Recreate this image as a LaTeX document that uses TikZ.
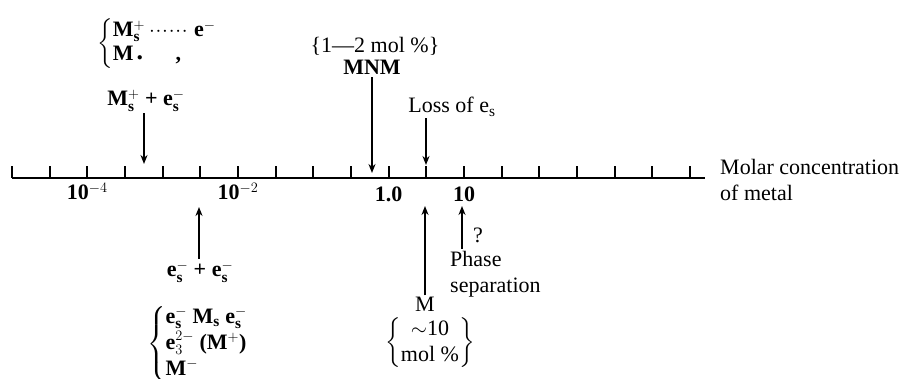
\documentclass[tikz,border=0pt]{standalone}
\usepackage{amsmath}
\usepackage{fontspec}
\setmainfont{Liberation Serif}
\usepackage{tikz}
\usetikzlibrary{arrows.meta,calc}
\newcommand{\Msp}{M$_{\text{s}}^{+}$}
\newcommand{\esm}{e$_{\text{s}}^{-}$}
\newcommand{\dotrun}{\hbox to 1.9em{\leaders\hbox to 0.3em{\hss$\cdot$\hss}\hfil}}
\newcommand{\raddot}{{\fontsize{11}{11}\selectfont$\bullet$}}
\tikzset{
  species/.style={
    font=\fontsize{22}{26}\selectfont\bfseries, inner sep=2pt
  },
  plainlab/.style={
    font=\fontsize{22}{26}\selectfont, inner sep=2pt
  },
  decade/.style={
    font=\fontsize{22}{26}\selectfont\bfseries, anchor=base, inner sep=0pt
  },
  axisline/.style={line width=2.4pt},
  axistick/.style={line width=1.8pt},
  pointer/.style={-{Stealth[length=9pt,width=7pt]}, line width=2pt}
}

\begin{document}
\begin{tikzpicture}[x=1pt, y=-1pt]
  \useasboundingbox (0,0) rectangle (900,379);

  \foreach \k in {0,...,18}
    \coordinate (t\k) at (12+37.67*\k,178);
  \coordinate (axend) at (705,178);
  \draw[axisline] (t0) -- (axend);
  \foreach \k in {0,...,18}
    \draw[axistick] (t\k) -- ++(0,-12);

  \node[decade] (dm4) at ($(t2)+(0,22)$) {10$^{-4}$};
  \node[decade] (dm2) at ($(t6)+(0,22)$) {10$^{-2}$};
  \node[decade] (done) at ($(t10)+(0,24)$) {1.0};
  \node[decade] (dten) at ($(t12)+(0,24)$) {10};
  \node[plainlab, anchor=north west, align=left] (axtitle) at (718,157)
    {Molar concentration\\of metal};

  \node[species, anchor=west] (solv) at (95,44)
    {\renewcommand{\arraystretch}{0.92}$\left\{\begin{tabular}{@{}l@{}}\Msp\,\dotrun\,e$^{-}$\\M\,\raddot\hspace{1.5em},\end{tabular}\right.$};
  \node[species, anchor=base] (ionpair) at (146,106) {\Msp\ + \esm};
  \node[plainlab, anchor=base] (mnmrange) at (375,53) {\{1—2 mol \%\}};
  \node[species, anchor=base] (mnm) at (372,75) {MNM};
  \node[plainlab, anchor=base] (loss) at (452,113) {Loss of e$_{\text{s}}$};

  \node[species, anchor=base] (dimer) at (200,277) {\esm\ + \esm};
  \node[species, anchor=west] (pairs) at (145,344)
    {\renewcommand{\arraystretch}{1.0}$\left\{\begin{tabular}{@{}l@{}}\esm\ M$_{\text{s}}$ \esm\\e$_{3}^{2-}$ (M$^{+}$)\\M$^{-}$\end{tabular}\right.$};
  \node[plainlab, anchor=base] (metal) at (425,312) {M};
  \node[plainlab] (molpc) at (430,343)
    {$\left\{\begin{tabular}{@{}c@{}}$\sim$10\\mol \%\end{tabular}\right\}$};
  \node[plainlab, anchor=base] (query) at (478,243) {?};
  \node[plainlab, anchor=north west, align=left] (phase) at (448,249)
    {Phase\\separation};

  \coordinate (a1) at (144,164);
  \coordinate (a2) at (199,207);
  \coordinate (a3) at (372,173);
  \coordinate (a4) at (426,165);
  \coordinate (a5) at (425,206);
  \coordinate (a6) at (462,206);
  \draw[pointer] (ionpair.south -| a1) -- (a1);
  \draw[pointer] (mnm) -- (a3);
  \draw[pointer] (loss.south -| a4) -- (a4);
  \draw[pointer] (dimer.north -| a2) -- (a2);
  \draw[pointer] (metal) -- (a5);
  \draw[pointer] (phase.north -| a6) -- (a6);
\end{tikzpicture}
\end{document}
